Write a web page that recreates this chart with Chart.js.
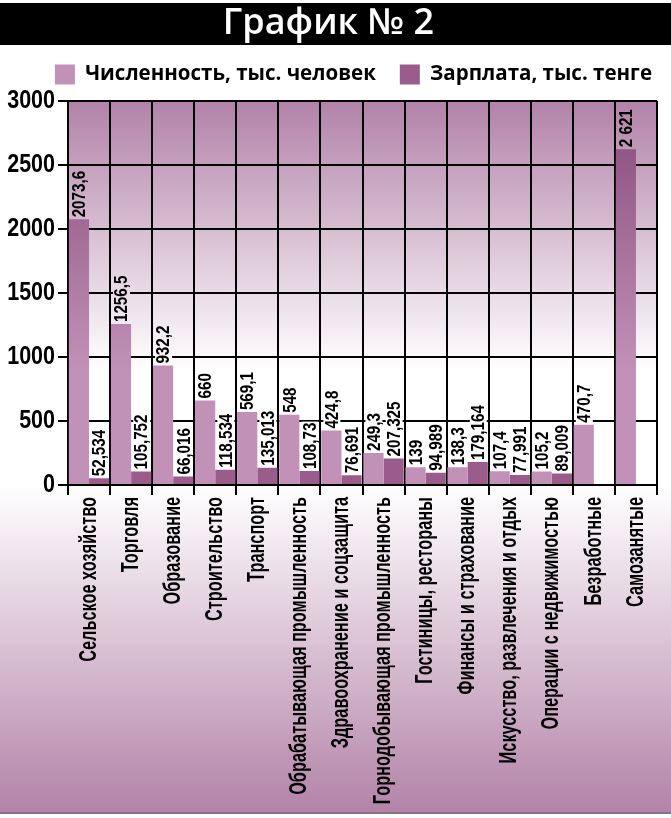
<!DOCTYPE html>
<html>
<head>
<meta charset="utf-8">
<script src="https://cdn.jsdelivr.net/npm/chart.js@4.4.1/dist/chart.umd.min.js"></script>
<style>
  html, body { margin: 0; padding: 0; background: #fff; }
  #wrap { width: 671px; height: 818px; }
</style>
</head>
<body>
<div id="wrap"><canvas id="c" width="671" height="818"></canvas></div>
<script>
// ---- DATA ----
const categories = [
  'Сельское хозяйство', 'Торговля', 'Образование', 'Строительство', 'Транспорт',
  'Обрабатывающая промышленность', 'Здравоохранение и соцзащита',
  'Горнодобывающая промышленность', 'Гостиницы, рестораны', 'Финансы и страхование',
  'Искусство, развлечения и отдых', 'Операции с недвижимостью', 'Безработные', 'Самозанятые'
];
const headcount = [2073.6, 1256.5, 932.2, 660, 569.1, 548, 424.8, 249.3, 139, 138.3, 107.4, 105.2, 470.7, 2621];
const salary = [52.534, 105.752, 66.016, 118.534, 135.013, 108.73, 76.691, 207.325, 94.989, 179.164, 77.991, 89.009, null, null];
const headcountLabels = ['2073,6', '1256,5', '932,2', '660', '569,1', '548', '424,8', '249,3', '139', '138,3', '107,4', '105,2', '470,7', '2 621'];
const salaryLabels = ['52,534', '105,752', '66,016', '118,534', '135,013', '108,73', '76,691', '207,325', '94,989', '179,164', '77,991', '89,009', '', ''];
const seriesNames = ['Численность, тыс. человек', 'Зарплата, тыс. тенге'];
const titleText = 'График № 2';
const yMin = 0, yMax = 3000, yStep = 500;

// ---- STYLE ----
const LIGHT = '#c191b8';
const DARK = '#9a5c8b';
const BG_TOP = '#b282a8';
const FADE = 0.70;
// "sqNN" is a marker family (not installed) telling the text renderer to condense glyphs to NN%
const XFONT = 'sq68, "Liberation Sans", Arial, sans-serif';
const YFONT = 'sq86, "Liberation Sans", Arial, sans-serif';
const VFONT = 'sq80, "Liberation Sans", Arial, sans-serif';
const ROUND = '"Open Sans", "Lato", sans-serif';

function hex(h) { return [1, 3, 5].map(i => parseInt(h.substr(i, 2), 16)); }
function toHex(a) { return '#' + a.map(v => Math.round(v).toString(16).padStart(2, '0')).join(''); }
function multiply(a, b) { const A = hex(a), B = hex(b); return toHex(A.map((v, i) => v * B[i] / 255)); }

const canvas = document.getElementById('c');
const ctx2d = canvas.getContext('2d');
const origFillText = ctx2d.fillText.bind(ctx2d);
ctx2d.fillText = function (text, x, y, maxWidth) {
  const m = /sq(\d+)/.exec(ctx2d.font);
  if (m) {
    const w = ctx2d.measureText(text).width * (parseInt(m[1], 10) / 100);
    const mw = (maxWidth !== undefined && maxWidth !== null) ? Math.min(maxWidth, w) : w;
    return origFillText(text, x, y, mw);
  }
  if (maxWidth !== undefined && maxWidth !== null) return origFillText(text, x, y, maxWidth);
  return origFillText(text, x, y);
};

function plotGradient(chart) {
  const { top, bottom } = chart.chartArea;
  const g = chart.ctx.createLinearGradient(0, top, 0, top + (bottom - top) * FADE);
  g.addColorStop(0, BG_TOP);
  g.addColorStop(1, '#ffffff');
  return g;
}
function barFill(chart, base) {
  if (!chart.chartArea) return base;
  const { top, bottom } = chart.chartArea;
  const g = chart.ctx.createLinearGradient(0, top, 0, top + (bottom - top) * FADE);
  g.addColorStop(0, multiply(base, BG_TOP));
  g.addColorStop(1, base);
  return g;
}

// legend spacing tweaks: extra room below the legend, legend block nudged up/right
const legendTweak = {
  id: 'legendTweak',
  afterInit(chart) {
    const lg = chart.legend;
    if (!lg) return;
    const fit = lg.fit.bind(lg);
    lg.fit = function () { fit(); this.height += 1; };
  },
  afterLayout(chart) {
    const lg = chart.legend;
    if (!lg) return;
    lg.top -= 5; lg.bottom -= 5;
    lg.left += 19; lg.right += 19;
  }
};

const backgroundPlugin = {
  id: 'bgPaint',
  beforeDraw(chart) {
    const { ctx, width, height, chartArea } = chart;
    ctx.save();
    ctx.fillStyle = '#ffffff';
    ctx.fillRect(0, 0, width, height);
    ctx.fillStyle = '#000000';
    ctx.fillRect(0, 3, width, 42);
    ctx.fillStyle = plotGradient(chart);
    ctx.fillRect(chartArea.left, chartArea.top, chartArea.right - chartArea.left, chartArea.bottom - chartArea.top);
    const b0 = chartArea.bottom, b1 = height - 6;
    const g2 = ctx.createLinearGradient(0, b0, 0, b1);
    g2.addColorStop(0, '#ffffff');
    g2.addColorStop(1, '#b383a8');
    ctx.fillStyle = g2;
    ctx.fillRect(0, b0, width, b1 - b0);
    ctx.fillStyle = '#857582';
    ctx.fillRect(0, b1, width, 2);
    ctx.restore();
  }
};

const valueLabelPlugin = {
  id: 'valueLabels',
  afterDatasetsDraw(chart) {
    const { ctx } = chart;
    const texts = [headcountLabels, salaryLabels];
    ctx.save();
    ctx.font = 'bold 19px ' + VFONT;
    ctx.textBaseline = 'middle';
    ctx.textAlign = 'left';
    texts.forEach((arr, d) => {
      chart.getDatasetMeta(d).data.forEach((bar, i) => {
        const t = arr[i];
        if (!t) return;
        const w = ctx.measureText(t).width * 0.80;
        const x = bar.x, y0 = bar.y - 2;
        ctx.fillStyle = plotGradient(chart);
        ctx.fillRect(x - 8, y0 - w - 1, 17, w + 1);
        ctx.save();
        ctx.translate(x + 1, y0);
        ctx.rotate(-Math.PI / 2);
        ctx.fillStyle = '#000';
        ctx.fillText(t, 0, 0);
        ctx.restore();
      });
    });
    ctx.restore();
  }
};

new Chart(canvas, {
  type: 'bar',
  data: {
    labels: categories,
    datasets: [
      { label: seriesNames[0], data: headcount, legendColor: LIGHT,
        backgroundColor: c => barFill(c.chart, LIGHT), borderWidth: 0,
        barPercentage: 1, categoryPercentage: 0.96 },
      { label: seriesNames[1], data: salary, legendColor: DARK,
        backgroundColor: c => barFill(c.chart, DARK), borderWidth: 0,
        barPercentage: 1, categoryPercentage: 0.96 }
    ]
  },
  options: {
    responsive: false,
    animation: false,
    devicePixelRatio: 1,
    layout: { padding: { left: 0, right: 14, top: 0, bottom: 0 } },
    plugins: {
      title: {
        display: true, text: titleText, color: '#ffffff',
        font: { family: ROUND, size: 36, weight: '600' },
        padding: { top: 2, bottom: 0 }
      },
      legend: {
        display: true, position: 'top', align: 'end',
        labels: {
          boxWidth: 20, boxHeight: 20, color: '#000', padding: 24,
          font: { family: ROUND, size: 20.5, weight: 'bold' },
          generateLabels: chart => chart.data.datasets.map((ds, i) => ({
            text: ds.label, fillStyle: ds.legendColor, strokeStyle: ds.legendColor,
            lineWidth: 0, hidden: false, datasetIndex: i, fontColor: '#000'
          }))
        }
      },
      tooltip: { enabled: false }
    },
    scales: {
      x: {
        afterFit: s => { s.height = 333; },
        grid: { color: '#000', lineWidth: 2, tickLength: 10, offset: true, drawOnChartArea: true },
        border: { color: '#000', width: 2 },
        ticks: {
          color: '#000', autoSkip: false, maxRotation: 90, minRotation: 90, padding: 2,
          font: { family: XFONT, size: 24, weight: 'bold' }
        }
      },
      y: {
        min: yMin, max: yMax,
        afterFit: s => { s.width = 68; },
        grid: { color: '#000', lineWidth: 2, tickLength: 10 },
        border: { color: '#000', width: 2 },
        ticks: {
          stepSize: yStep, color: '#000', padding: 3,
          callback: v => String(v),
          font: { family: YFONT, size: 25, weight: 'bold' }
        }
      }
    }
  },
  plugins: [legendTweak, backgroundPlugin, valueLabelPlugin]
});
</script>
</body>
</html>
